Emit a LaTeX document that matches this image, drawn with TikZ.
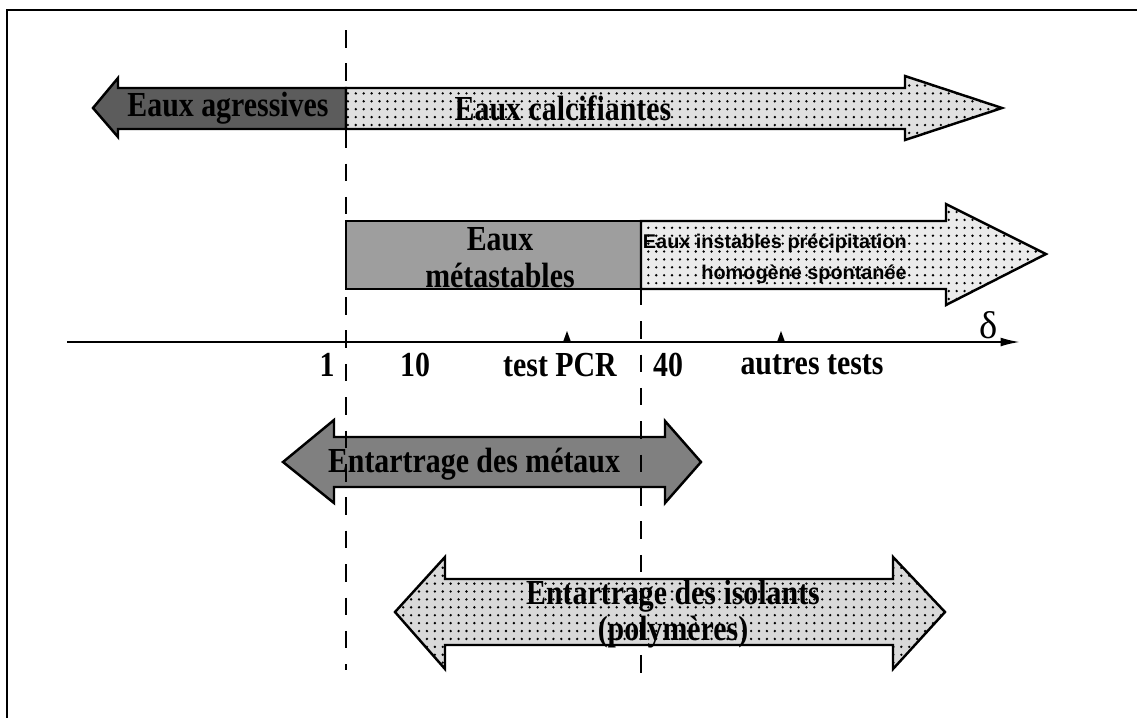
\documentclass[tikz,border=0pt]{standalone}
\usepackage{fontspec}
\setmainfont{Liberation Serif}
\newfontfamily\condfont[FakeStretch=0.85]{Liberation Serif}
\newfontfamily\labelfont{Liberation Sans}
\usetikzlibrary{arrows.meta,patterns.meta}
\tikzset{
ARR/.style ={draw=black,line join=miter,miter limit=4.00,line width=1.4pt},
DARK/.style={ARR,fill=white!#1!black},
DARK/.default = 45,
DOTS/.style={ARR,preaction={fill=white!#1!black},pattern={Dots[distance=4.5pt,radius=0.75pt]}},
DOTS/.default = 92,
DASHLINE/.style={draw=black,line width=1.1pt,dash pattern=on 10pt off 9pt},
SERIF/.style={font=\condfont\bfseries\fontsize{20}{20.5}\selectfont,align=center,inner sep=0pt},
SANS/.style={font=\labelfont\bfseries\fontsize{11.3}{18}\selectfont,align=right,inner sep=0pt},
}

\begin{document}
\begin{tikzpicture}[x=0.02cm,y=-0.02cm]
	\useasboundingbox (0,0) rectangle (1137,718);
	\path[draw=black,line width=1.2pt] (1137,10) -- (7,10) -- (7,718);
	% top band
	\path[DARK=36] (346,88) -- (118,88) -- (118,78) -- (93,108) -- (118,137) -- (118,129) -- (346,129) -- cycle;
	\path[DOTS=88] (346,88) -- (905,88) -- (905,76) -- (1002,108) -- (905,140) -- (905,129) -- (346,129) -- cycle;
	\node[SERIF] (agr) at (228,108) {Eaux agressives};
	\node[SERIF] (calc) at (563,108) {Eaux calcifiantes};
	% second row
	\path[DARK=62] (346,221) rectangle (641,289);
	\path[DOTS] (641,221) -- (946,221) -- (946,204) -- (1046,254) -- (946,305) -- (946,289) -- (641,289) -- cycle;
	\node[SERIF,font=\condfont\bfseries\fontsize{20}{21}\selectfont] (meta) at (500,258) {Eaux\\métastables};
	\node[SANS,anchor=east] (inst) at (907,259) {Eaux instables précipitation\\homogène spontanée};
	% axis
	\coordinate (axL) at (67,342);
	\coordinate (axR) at (1020,342);
	\path[draw=black,line width=1.1pt,-{Latex[length=11pt,width=5pt]}] (axL) -- (axR);
	\foreach \x in {567,781}
		\path[fill=black] (\x-4,342) -- (\x,331) -- (\x+4,342) -- cycle;
	\node[font=\fontsize{22}{22}\selectfont] (delta) at (989,325) {δ};
	\node[SERIF] (one) at (327,365) {1};
	\node[SERIF] (ten) at (415,365) {10};
	\node[SERIF] (pcr) at (560,365) {test PCR};
	\node[SERIF] (forty) at (668,365) {40};
	\node[SERIF] (autres) at (812,365) {autres tests};
	% scaling arrows
	\path[DARK=50] (283,462) -- (334,420) -- (334,437) -- (665,437) -- (665,421) -- (701,462) -- (665,503) -- (665,487) -- (334,487) -- (334,503) -- cycle;
	\node[SERIF] (metaux) at (474,464) {Entartrage des métaux};
	\path[DOTS=85] (395,612) -- (445,557) -- (445,579) -- (893,579) -- (893,557) -- (945,612) -- (893,669) -- (893,645) -- (445,645) -- (445,669) -- cycle;
	\node[SERIF] (isol) at (673,614) {Entartrage des isolants\\(polymères)};
	% limits
	\path[DASHLINE] (346,30) -- (346,670);
	\path[DASHLINE] (641,221) -- (641,680);
\end{tikzpicture}
\end{document}
